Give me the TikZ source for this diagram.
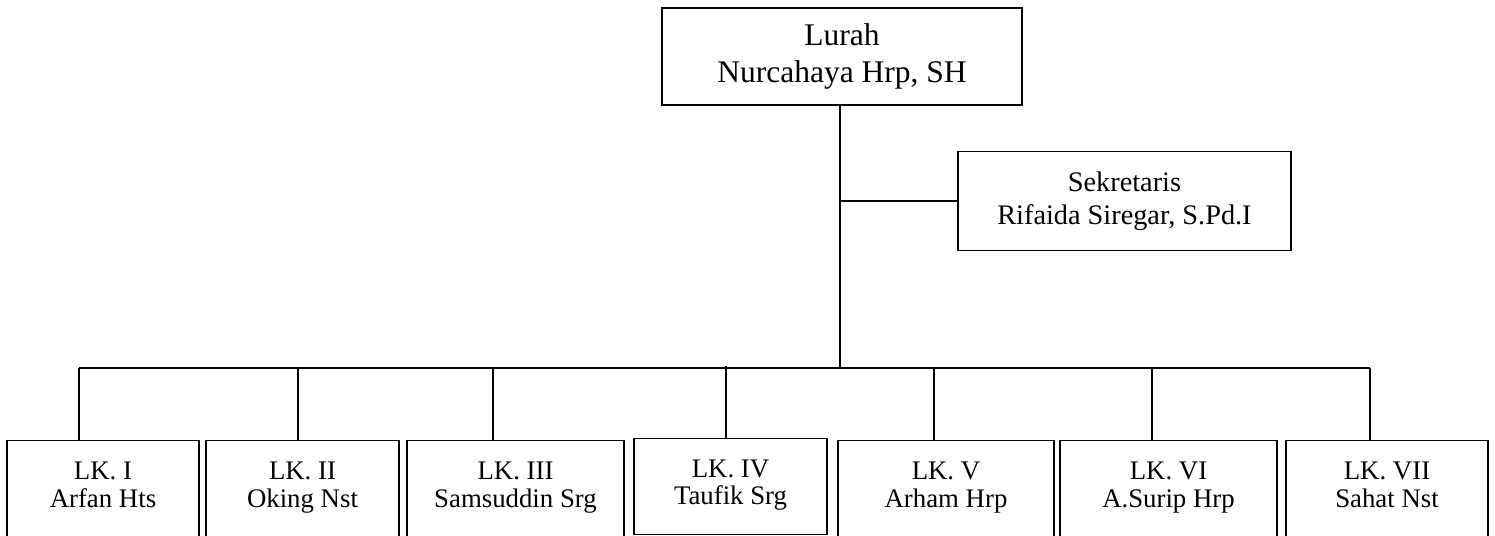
\documentclass[tikz,border=0pt]{standalone}
\usepackage{fontspec}
\setmainfont{Liberation Serif}
\usepackage{tikz}
\usetikzlibrary{positioning,calc}

\begin{document}
\begin{tikzpicture}[
    x=1pt,y=-1pt,
    box/.style={draw=black,line width=1.3pt,inner sep=0pt,align=center,
      minimum width=#1},
    head/.style={box=360pt,minimum height=97pt,font=\fontsize{31.5}{37}\selectfont},
    sek/.style={box=333pt,minimum height=99pt,font=\fontsize{28.3}{33}\selectfont},
    lk/.style={box=#1,minimum height=97pt,anchor=north,text depth=9pt,
      font=\fontsize{26.8}{27.5}\selectfont},
    conn/.style={line width=1.2pt,black}
  ]
    \useasboundingbox (0,0) rectangle (1495,535);
    \node[head] (lurah) at (842,56.5) {Lurah\\Nurcahaya Hrp, SH};
    \node[sek] (sekretaris) at (1124.5,201) {Sekretaris\\Rifaida Siregar, S.Pd.I};
    % lingkungan
    \node[lk=192pt] (lk1) at (103,440) {LK. I\\Arfan Hts};
    \node[lk=193pt] (lk2) at (302.5,440) {LK. II\\Oking Nst};
    \node[lk=217pt] (lk3) at (515.5,440) {LK. III\\Samsuddin Srg};
    \node[lk=193pt,minimum height=96pt] (lk4) at (730.5,438) {LK. IV\\Taufik Srg};
    \node[lk=216pt] (lk5) at (946,440) {LK. V\\Arham Hrp};
    \node[lk=217pt] (lk6) at (1168.5,440) {LK. VI\\A.Surip Hrp};
    \node[lk=202pt] (lk7) at (1387,440) {LK. VII\\Sahat Nst};
    % bus
    \coordinate (junction) at (840,368);
    \coordinate (d1) at (79,368);
    \coordinate (d2) at (298,368);
    \coordinate (d3) at (493,368);
    \coordinate (d4) at (726,366);
    \coordinate (d5) at (934,368);
    \coordinate (d6) at (1152,368);
    \coordinate (d7) at (1370,368);
    \draw[conn] (lurah.south -| junction) -- (junction);
    \draw[conn] (junction |- sekretaris.west) -- (sekretaris.west);
    \draw[conn] (d1) -- (d7);
    \foreach \i in {1,...,7}
      \draw[conn] (d\i) -- (d\i |- lk\i.north);
\end{tikzpicture}
\end{document}
